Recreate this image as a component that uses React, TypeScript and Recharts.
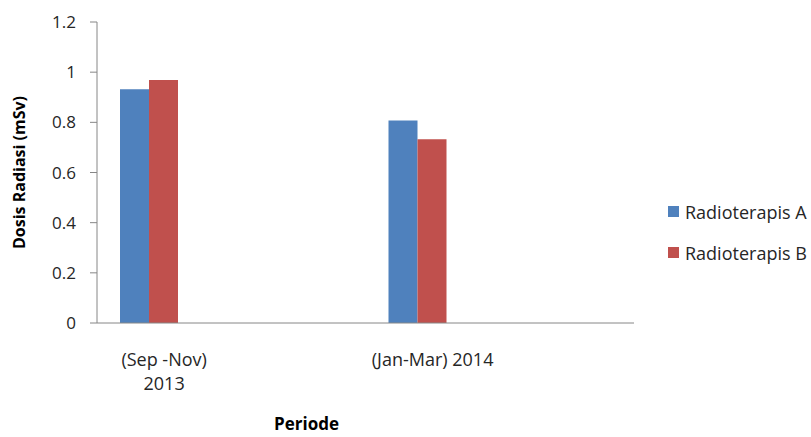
import { BarChart, Bar, XAxis, YAxis, Label } from "recharts";

const categories = ["(Sep -Nov)\n2013", "", "(Jan-Mar) 2014", ""];
const radioterapisA = [0.932, null, 0.807, null];
const radioterapisB = [0.969, null, 0.733, null];
const yTicks = [0, 0.2, 0.4, 0.6, 0.8, 1, 1.2];

const FONT = "'Open Sans', 'Noto Sans', sans-serif";
const AXIS = "#868686";
const TEXT = "#262626";

const data = categories.map((name, i) => ({
  name,
  a: radioterapisA[i],
  b: radioterapisB[i],
  c: null,
}));

const legendItems = [
  { label: "Radioterapis A", color: "#4F81BD" },
  { label: "Radioterapis B", color: "#C0504D" },
];

function CategoryTick(props: any) {
  const { x, y, payload } = props;
  const lines = String(payload.value).split("\n");
  return (
    <text x={x} y={y} textAnchor="middle" fill={TEXT} fontSize={18} fontFamily={FONT}>
      {lines.map((line, i) => (
        <tspan key={i} x={x} dy={i === 0 ? 35 : 24}>
          {line}
        </tspan>
      ))}
    </text>
  );
}

export default function App() {
  return (
    <div style={{ position: "absolute", left: 0, top: 0, width: 811, height: 437, background: "#fff" }}>
      <BarChart
        width={811}
        height={437}
        data={data}
        margin={{ top: 22, right: 177, bottom: 84, left: 37 }}
        barGap={0}
        barCategoryGap={23}
      >
        <XAxis
          dataKey="name"
          height={30}
          tick={<CategoryTick />}
          tickLine={false}
          axisLine={{ stroke: AXIS }}
          interval={0}
        >
          <Label
            value="Periode"
            position="insideBottom"
            offset={-77}
            dx={-59}
            style={{ fontFamily: FONT, fontSize: 17, fontWeight: 700, fill: "#000" }}
          />
        </XAxis>
        <YAxis
          width={60}
          domain={[0, 1.2]}
          ticks={yTicks}
          tickSize={7}
          tickMargin={14}
          tickLine={{ stroke: AXIS }}
          axisLine={{ stroke: AXIS }}
          tick={{ fill: TEXT, fontSize: 17, fontFamily: FONT }}
          tickFormatter={(v: number) => String(Math.round(v * 10) / 10)}
        >
          <Label
            value="Dosis Radiasi (mSv)"
            angle={-90}
            position="insideLeft"
            offset={-18}
            style={{ textAnchor: "middle", fontFamily: FONT, fontSize: 16, fontWeight: 700, fill: "#000" }}
          />
        </YAxis>
        <Bar dataKey="a" fill="#4F81BD" isAnimationActive={false} />
        <Bar dataKey="b" fill="#C0504D" isAnimationActive={false} />
        <Bar dataKey="c" fill="none" isAnimationActive={false} legendType="none" />
      </BarChart>
      <div style={{ position: "absolute", left: 668, top: 199, fontFamily: FONT, fontSize: 18, color: TEXT }}>
        {legendItems.map((item) => (
          <div key={item.label} style={{ display: "flex", alignItems: "center", height: 25, marginBottom: 16 }}>
            <span style={{ width: 11, height: 11, background: item.color, marginRight: 6 }} />
            <span>{item.label}</span>
          </div>
        ))}
      </div>
    </div>
  );
}
